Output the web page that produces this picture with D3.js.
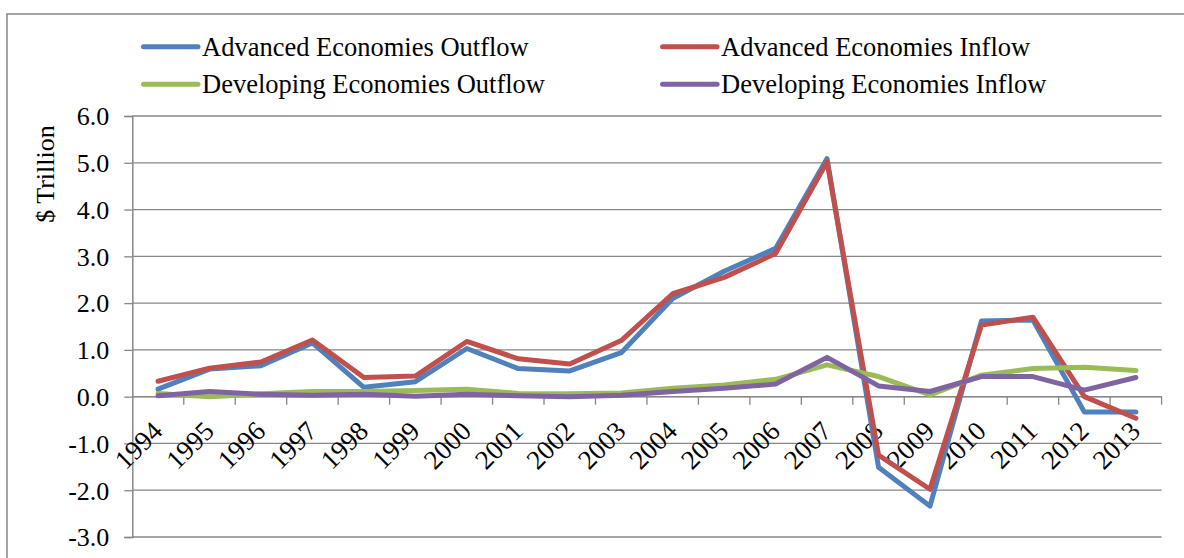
<!DOCTYPE html>
<html>
<head>
<meta charset="utf-8">
<script src="https://cdn.jsdelivr.net/npm/d3@7"></script>
<style>
  body { margin: 0; background: #fff; }
  text { font-family: "Liberation Serif", "Times New Roman", serif; fill: #000; }
</style>
</head>
<body>
<svg width="1184" height="558"></svg>
<script>
const years = ['1994','1995','1996','1997','1998','1999','2000','2001','2002','2003',
  '2004','2005','2006','2007','2008','2009','2010','2011','2012','2013'];

const advOutflow = [0.16, 0.59, 0.66, 1.15, 0.20, 0.32, 1.03, 0.60, 0.55, 0.94,
  2.10, 2.68, 3.17, 5.09, -1.51, -2.34, 1.62, 1.64, -0.33, -0.33];
const advInflow = [0.33, 0.61, 0.74, 1.21, 0.41, 0.44, 1.18, 0.81, 0.70, 1.20,
  2.20, 2.55, 3.06, 5.02, -1.25, -1.98, 1.53, 1.70, 0.00, -0.46];
const devOutflow = [0.07, 0.00, 0.06, 0.11, 0.11, 0.13, 0.16, 0.07, 0.06, 0.08,
  0.18, 0.25, 0.37, 0.68, 0.43, 0.04, 0.46, 0.60, 0.63, 0.56];
const devInflow = [0.02, 0.11, 0.05, 0.03, 0.05, 0.01, 0.05, 0.02, 0.00, 0.03,
  0.11, 0.18, 0.27, 0.84, 0.23, 0.11, 0.43, 0.43, 0.14, 0.41];

const yTicks = [-3, -2, -1, 0, 1, 2, 3, 4, 5, 6];

const series = [
  {name: 'Advanced Economies Outflow', values: advOutflow, color: '#4F81BD'},
  {name: 'Advanced Economies Inflow', values: advInflow, color: '#C0504D'},
  {name: 'Developing Economies Outflow', values: devOutflow, color: '#9BBB59'},
  {name: 'Developing Economies Inflow', values: devInflow, color: '#8064A2'}
];

const svg = d3.select('svg');
const gridColor = '#878787';

// outer frame (runs off the right and bottom edges)
svg.append('rect')
  .attr('x', 7).attr('y', 14)
  .attr('width', 1200).attr('height', 600)
  .attr('fill', 'none')
  .attr('stroke', gridColor)
  .attr('stroke-width', 1.5);

const plotLeft = 132.3, plotRight = 1161.6, plotTop = 116, plotBottom = 537;

const x = d3.scaleBand().domain(years).range([plotLeft, plotRight]);
const y = d3.scaleLinear().domain([-3, 6]).range([plotBottom, plotTop]);

// gridlines
svg.append('g')
  .selectAll('line')
  .data(yTicks)
  .join('line')
  .attr('x1', plotLeft).attr('x2', plotRight)
  .attr('y1', d => y(d)).attr('y2', d => y(d))
  .attr('stroke', gridColor)
  .attr('stroke-width', 1.3);

// y axis, plain hyphen for negatives like the original
const yAxis = svg.append('g')
  .attr('transform', `translate(${plotLeft},0)`)
  .call(d3.axisLeft(y).tickValues(yTicks).tickFormat(d => d.toFixed(1)).tickSize(8).tickPadding(15));
yAxis.select('.domain').attr('stroke', gridColor).attr('stroke-width', 1.5);
yAxis.selectAll('.tick line').attr('stroke', gridColor).attr('stroke-width', 1.3);
yAxis.selectAll('.tick text')
  .attr('font-size', 26)
  .attr('dy', '0.34em')
  .style('font-family', '"Liberation Serif", serif');

// x axis along zero, ticks between categories
const xAxis = svg.append('g')
  .attr('transform', `translate(0,${y(0)})`);
xAxis.append('line')
  .attr('x1', plotLeft).attr('x2', plotRight)
  .attr('stroke', gridColor).attr('stroke-width', 1.5);
xAxis.selectAll('.xtick')
  .data(years)
  .join('line')
  .attr('x1', d => x(d) + x.bandwidth())
  .attr('x2', d => x(d) + x.bandwidth())
  .attr('y1', 0).attr('y2', 8)
  .attr('stroke', gridColor).attr('stroke-width', 1.3);
xAxis.selectAll('.xlabel')
  .data(years)
  .join('text')
  .attr('text-anchor', 'end')
  .attr('font-size', 27)
  .attr('transform', d => `translate(${x(d) + x.bandwidth() / 2 + 6},${36}) rotate(-45)`)
  .text(d => d);

// y axis title
svg.append('text')
  .attr('transform', 'translate(54,174) rotate(-90)')
  .attr('text-anchor', 'middle')
  .attr('font-size', 26)
  .text('$ Trillion');

// lines
const line = d3.line()
  .x((d, i) => x(years[i]) + x.bandwidth() / 2)
  .y(d => y(d));

svg.append('g')
  .selectAll('path')
  .data(series)
  .join('path')
  .attr('d', d => line(d.values))
  .attr('fill', 'none')
  .attr('stroke', d => d.color)
  .attr('stroke-width', 5)
  .attr('stroke-linejoin', 'round')
  .attr('stroke-linecap', 'round');

// legend
const legendPos = [[143.5, 46.7], [662.6, 46.7], [143.5, 84.3], [662.6, 84.3]];
const legend = svg.append('g')
  .selectAll('g')
  .data(series)
  .join('g')
  .attr('transform', (d, i) => `translate(${legendPos[i][0]},${legendPos[i][1]})`);
legend.append('line')
  .attr('x1', 0).attr('x2', 54.5)
  .attr('stroke', d => d.color)
  .attr('stroke-width', 5)
  .attr('stroke-linecap', 'round');
legend.append('text')
  .attr('x', 58.5)
  .attr('dy', '0.34em')
  .attr('font-size', 26.5)
  .text(d => d.name);
</script>
</body>
</html>
